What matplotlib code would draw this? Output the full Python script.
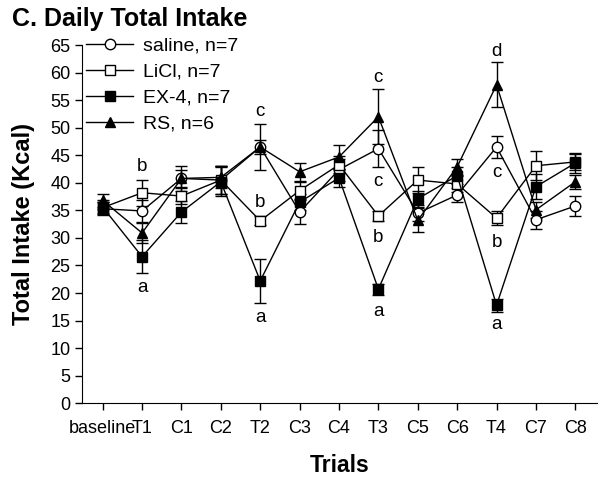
import numpy as np
import matplotlib.pyplot as plt
from matplotlib.lines import Line2D

plt.rcParams['font.family'] = ['Liberation Sans', 'DejaVu Sans']

trials = ['baseline', 'T1', 'C1', 'C2', 'T2', 'C3', 'C4', 'T3', 'C5', 'C6', 'T4', 'C7', 'C8']

saline = [35.3, 34.9, 40.8, 40.5, 46.5, 34.7, 42.4, 46.2, 34.5, 37.8, 46.5, 33.3, 35.8]
saline_se = [1.2, 2.0, 2.3, 2.5, 1.3, 2.2, 2.0, 3.4, 1.5, 1.3, 2.0, 1.6, 1.8]

licl = [35.5, 38.2, 37.6, 40.5, 33.1, 38.6, 43.3, 34.0, 40.5, 39.8, 33.6, 43.1, 43.8]
licl_se = [1.0, 2.4, 1.5, 2.5, 0.8, 1.5, 1.5, 0.9, 2.4, 1.5, 1.3, 2.6, 1.5]

ex4 = [35.6, 26.6, 34.7, 40.2, 22.2, 36.5, 40.9, 20.7, 37.1, 41.3, 17.8, 39.3, 43.6]
ex4_se = [1.2, 3.0, 2.0, 2.6, 4.0, 1.5, 1.6, 1.0, 1.5, 1.5, 1.2, 2.3, 1.8]

rs = [36.8, 30.9, 40.8, 41.0, 46.5, 42.0, 44.7, 52.0, 33.2, 42.9, 57.8, 35.1, 40.2]
rs_se = [1.2, 1.8, 1.5, 2.0, 4.2, 1.6, 2.2, 5.0, 2.2, 1.4, 4.1, 1.5, 1.3]

# significance letters: (trial index, y value, letter)
letters = [
    (1, 42.9, 'b'), (1, 21.0, 'a'),
    (4, 52.9, 'c'), (4, 36.4, 'b'), (4, 15.5, 'a'),
    (7, 59.1, 'c'), (7, 40.2, 'c'), (7, 30.0, 'b'), (7, 16.7, 'a'),
    (10, 63.8, 'd'), (10, 41.8, 'c'), (10, 29.1, 'b'), (10, 14.2, 'a'),
]

x = np.arange(len(trials))

fig = plt.figure(figsize=(6, 4.8), dpi=100)
ax = fig.add_axes([0.137, 0.160, 0.858, 0.746])

series = [
    (saline, saline_se, 'o', 'white', 'saline, n=7'),
    (licl, licl_se, 's', 'white', 'LiCl, n=7'),
    (ex4, ex4_se, 's', 'black', 'EX-4, n=7'),
    (rs, rs_se, '^', 'black', 'RS, n=6'),
]
handles = []
for vals, se, m, fc, lab in series:
    ax.errorbar(x, vals, yerr=se, color='black', lw=1, marker=m, ms=7.5,
                mfc=fc, mec='black', mew=1, capsize=4.5, elinewidth=1,
                capthick=1)
    handles.append(Line2D([], [], color='black', lw=1, marker=m, ms=7.5,
                          mfc=fc, mec='black', mew=1, label=lab))

for i, yv, s in letters:
    ax.text(x[i], yv, s, ha='center', va='center', fontsize=13.5)

ax.set_xlim(-0.52, 12.55)
ax.set_ylim(0, 65)
ax.set_yticks(np.arange(0, 66, 5))
ax.set_xticks(x)
ax.set_xticklabels(trials)
ax.tick_params(direction='out', length=5, width=1, labelsize=13)
ax.tick_params(axis='x', pad=7)
ax.spines['top'].set_visible(False)
ax.spines['right'].set_visible(False)

ax.set_xlabel('Trials', fontsize=16.5, fontweight='bold', labelpad=12)
ax.set_ylabel('Total Intake (Kcal)', fontsize=17, fontweight='bold', labelpad=11)
fig.text(0.02, 0.96, 'C. Daily Total Intake', fontsize=18, fontweight='bold',
         ha='left', va='center')

ax.legend(handles=handles, loc='upper left', frameon=False, fontsize=14,
          handlelength=2.4, borderaxespad=0, bbox_to_anchor=(0.008, 1.022),
          labelspacing=0.43, handletextpad=0.5, borderpad=0.0)

fig.savefig('out.png', dpi=100)
